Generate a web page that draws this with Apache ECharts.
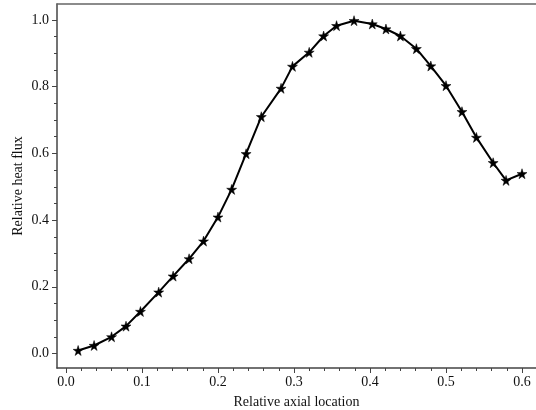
<!DOCTYPE html>
<html>
<head>
<meta charset="utf-8">
<script src="https://cdn.jsdelivr.net/npm/echarts@6/dist/echarts.min.js"></script>
<style>html,body{margin:0;padding:0;background:#fff}#c{width:536px;height:410px}</style>
</head>
<body>
<div id="c"></div>
<script>
var xValues = [0.016, 0.037, 0.060, 0.079, 0.098, 0.122, 0.141, 0.162, 0.181, 0.200, 0.218, 0.237, 0.257, 0.283, 0.298, 0.320, 0.339, 0.356, 0.379, 0.403, 0.421, 0.440, 0.461, 0.480, 0.500, 0.521, 0.540, 0.562, 0.579, 0.600];
var yValues = [0.009, 0.024, 0.050, 0.082, 0.126, 0.184, 0.232, 0.284, 0.337, 0.409, 0.492, 0.599, 0.710, 0.795, 0.861, 0.903, 0.952, 0.983, 0.998, 0.988, 0.973, 0.952, 0.914, 0.862, 0.803, 0.725, 0.648, 0.572, 0.519, 0.539];
var xMajor = [0.0, 0.1, 0.2, 0.3, 0.4, 0.5, 0.6];
var xMinor = [0.02, 0.04, 0.06, 0.08, 0.12, 0.14, 0.16, 0.18, 0.22, 0.24, 0.26, 0.28, 0.32, 0.34, 0.36, 0.38, 0.42, 0.44, 0.46, 0.48, 0.52, 0.54, 0.56, 0.58];
var yMajor = [0.0, 0.2, 0.4, 0.6, 0.8, 1.0];
var yMinor = [0.05, 0.1, 0.15, 0.25, 0.3, 0.35, 0.45, 0.5, 0.55, 0.65, 0.7, 0.75, 0.85, 0.9, 0.95];

var FONT = 'Liberation Serif';
var AX = '#444';
var XMIN = -0.0118, XMAX = 0.6184, YMIN = -0.0435, YMAX = 1.048;
var star = 'path://M50,0 L61,35 L98,35 L68,57 L79,91 L50,70 L21,91 L32,57 L2,35 L39,35 Z';

var chart = echarts.init(document.getElementById('c'), null, {renderer: 'canvas'});
chart.setOption({
  animation: false,
  grid: {left: 57, right: 0, top: 4, bottom: 42, containLabel: false, outerBoundsMode: 'none'},
  xAxis: [
    {
      type: 'value', position: 'bottom', min: XMIN, max: XMAX,
      name: 'Relative axial location', nameLocation: 'middle', nameGap: 27,
      nameTextStyle: {fontFamily: FONT, fontSize: 14, color: '#111'},
      axisLine: {show: true, onZero: false, lineStyle: {color: AX, width: 1.5}},
      axisTick: {show: true, inside: false, length: 5, customValues: xMajor, lineStyle: {color: AX, width: 1}},
      axisLabel: {show: true, customValues: xMajor, margin: 7, fontFamily: FONT, fontSize: 14, color: '#111',
        formatter: function (v) { return v.toFixed(1); }},
      splitLine: {show: false}
    },
    {
      type: 'value', position: 'bottom', min: XMIN, max: XMAX,
      axisLine: {show: false, onZero: false},
      axisTick: {show: true, inside: false, length: 3, customValues: xMinor, lineStyle: {color: AX, width: 1}},
      axisLabel: {show: false, customValues: xMinor},
      splitLine: {show: false}
    },
    {
      type: 'value', position: 'top', min: XMIN, max: XMAX,
      axisLine: {show: true, onZero: false, lineStyle: {color: '#666', width: 1.5}},
      axisTick: {show: false}, axisLabel: {show: false}, splitLine: {show: false}
    }
  ],
  yAxis: [
    {
      type: 'value', position: 'left', min: YMIN, max: YMAX,
      name: 'Relative heat flux', nameLocation: 'middle', nameGap: 32, nameRotate: 90, nameMoveOverlap: false,
      nameTextStyle: {fontFamily: FONT, fontSize: 14, color: '#111'},
      axisLine: {show: true, onZero: false, lineStyle: {color: AX, width: 1.5}},
      axisTick: {show: true, inside: false, length: 5, customValues: yMajor, lineStyle: {color: AX, width: 1}},
      axisLabel: {show: true, customValues: yMajor, margin: 8, fontFamily: FONT, fontSize: 14, color: '#111',
        formatter: function (v) { return v.toFixed(1); }},
      splitLine: {show: false}
    },
    {
      type: 'value', position: 'left', min: YMIN, max: YMAX,
      axisLine: {show: false, onZero: false},
      axisTick: {show: true, inside: false, length: 3, customValues: yMinor, lineStyle: {color: AX, width: 1}},
      axisLabel: {show: false, customValues: yMinor},
      splitLine: {show: false}
    }
  ],
  series: [{
    type: 'line',
    xAxisIndex: 0, yAxisIndex: 0,
    data: xValues.map(function (x, i) { return [x, yValues[i]]; }),
    lineStyle: {color: '#000', width: 2},
    symbol: star, symbolSize: 10,
    itemStyle: {color: '#000', borderColor: '#000', borderWidth: 0.5},
    showSymbol: true
  }]
});
</script>
</body>
</html>
